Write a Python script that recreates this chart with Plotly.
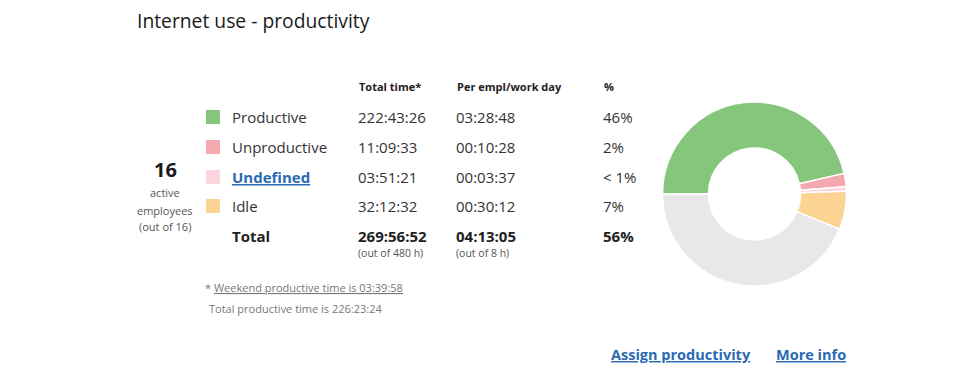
import plotly.graph_objects as go

W, H = 980, 370

title = "Internet use - productivity"
categories = ["Productive", "Unproductive", "Undefined", "Idle"]
colors = ["#86c67c", "#f6a8b0", "#fdd5de", "#fbd392"]
total_times = ["222:43:26", "11:09:33", "03:51:21", "32:12:32"]
per_day = ["03:28:48", "00:10:28", "00:03:37", "00:30:12"]
percents = ["46%", "2%", "< 1%", "7%"]
total_row = ["Total", "269:56:52", "04:13:05", "56%"]
total_sub = ["(out of 480 h)", "(out of 8 h)"]
headers = ["Total time*", "Per empl/work day", "%"]
remaining_time = "210:03:08"
remaining_color = "#e8e8e8"
active = "16"
active_lines = ["active", "employees", "(out of 16)"]
footnotes = ["* <u>Weekend productive time is 03:39:58</u>", "Total productive time is 226:23:24"]
links = ["Assign productivity", "More info"]


def to_sec(s):
    h, m, sec = s.split(":")
    return int(h) * 3600 + int(m) * 60 + int(sec)


pie_values = [to_sec(t) for t in total_times] + [to_sec(remaining_time)]
pie_colors = colors + [remaining_color]

FONT = "Open Sans"
TXT = "#333333"

fig = go.Figure()
fig.add_trace(go.Pie(
    values=pie_values,
    labels=categories + ["Remaining"],
    marker=dict(colors=pie_colors, line=dict(color="white", width=1.5)),
    hole=0.5,
    sort=False,
    direction="clockwise",
    rotation=270,
    textinfo="none",
    hoverinfo="label+percent",
    showlegend=False,
    domain=dict(x=[662.5 / W, 846.5 / W], y=[1 - 286 / H, 1 - 102 / H]),
))

ann = []
shapes = []


def A(text, px, py, size, color=TXT, xanchor="left", bold=False):
    if bold:
        text = "<b>" + text + "</b>"
    ann.append(dict(text=text, x=px / W, y=1 - py / H, xref="paper", yref="paper",
                    xanchor=xanchor, yanchor="middle", showarrow=False,
                    font=dict(family=FONT, size=size, color=color)))


A(title, 135, 21, 19.3, color="#1a1a1a")

# headers
col_x = [359, 457, 604]
for hx, ht in zip(col_x, headers):
    A(ht, hx - 2, 86, 11, color="#222222", bold=True)

row_y = [117, 147, 177, 206]
for i, cat in enumerate(categories):
    y = row_y[i]
    shapes.append(dict(type="rect", xref="paper", yref="paper",
                       x0=206 / W, x1=220 / W, y0=1 - (y + 7) / H, y1=1 - (y - 7) / H,
                       fillcolor=colors[i], line=dict(width=0)))
    if cat == "Undefined":
        A("<u>" + cat + "</u>", 230, y, 15, color="#2a6ab4", bold=True)
    else:
        A(cat, 230, y, 15)
    A(total_times[i], col_x[0] - 3, y, 15)
    A(per_day[i], col_x[1] - 3, y, 15)
    A(percents[i], col_x[2] - 3, y, 15)

# total row
A(total_row[0], 230, 236, 15, color="#222222", bold=True)
A(total_row[1], col_x[0] - 3, 236, 15, color="#222222", bold=True)
A(total_row[2], col_x[1] - 3, 236, 15, color="#222222", bold=True)
A(total_row[3], col_x[2] - 3, 236, 15, color="#222222", bold=True)
A(total_sub[0], col_x[0] - 3, 253, 10.5, color="#555555")
A(total_sub[1], col_x[1] - 3, 253, 10.5, color="#555555")

# active employees
A(active, 165, 169, 20, color="#1a1a1a", xanchor="center", bold=True)
for yy, t in zip([192, 210, 227], active_lines):
    A(t, 165, yy, 11, color="#555555", xanchor="center")

# footnotes
A(footnotes[0], 203, 287, 11, color="#777777")
A(footnotes[1], 207, 308, 11, color="#777777")

# links
A("<u>" + links[0] + "</u>", 609, 354, 14.5, color="#2a6ab4", bold=True)
A("<u>" + links[1] + "</u>", 774, 354, 14.5, color="#2a6ab4", bold=True)

fig.update_layout(
    width=W, height=H,
    margin=dict(l=0, r=0, t=0, b=0),
    paper_bgcolor="white", plot_bgcolor="white",
    annotations=ann, shapes=shapes,
    font=dict(family=FONT),
)

fig.write_html("out.html", config={"displayModeBar": False},
               post_script="document.body.style.margin='0px';document.body.style.overflow='hidden';")
